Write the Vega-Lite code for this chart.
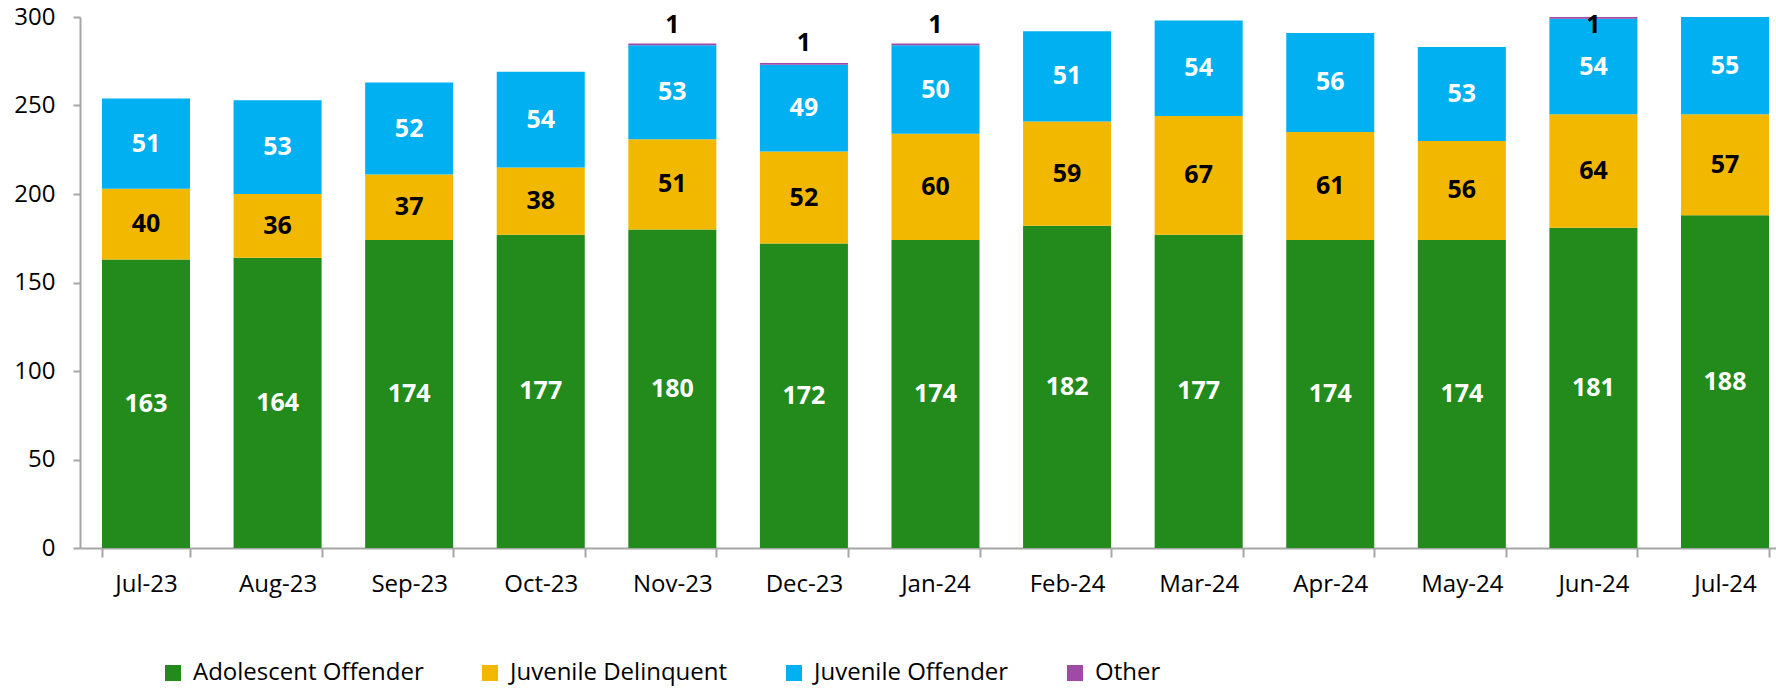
{
  "$schema": "https://vega.github.io/schema/vega-lite/v6.json",
  "autosize": {"type": "none"},
  "padding": {"left": 80, "top": 17, "right": 0, "bottom": 142},
  "width": 1696,
  "height": 531,
  "config": {"view": {"stroke": null}, "font": "Open Sans"},
  "data": {
    "values": [
      {"month": "Jul-23", "cat": "Adolescent Offender", "value": 163},
      {"month": "Jul-23", "cat": "Juvenile Delinquent", "value": 40},
      {"month": "Jul-23", "cat": "Juvenile Offender", "value": 51},
      {"month": "Jul-23", "cat": "Other", "value": 0},
      {"month": "Aug-23", "cat": "Adolescent Offender", "value": 164},
      {"month": "Aug-23", "cat": "Juvenile Delinquent", "value": 36},
      {"month": "Aug-23", "cat": "Juvenile Offender", "value": 53},
      {"month": "Aug-23", "cat": "Other", "value": 0},
      {"month": "Sep-23", "cat": "Adolescent Offender", "value": 174},
      {"month": "Sep-23", "cat": "Juvenile Delinquent", "value": 37},
      {"month": "Sep-23", "cat": "Juvenile Offender", "value": 52},
      {"month": "Sep-23", "cat": "Other", "value": 0},
      {"month": "Oct-23", "cat": "Adolescent Offender", "value": 177},
      {"month": "Oct-23", "cat": "Juvenile Delinquent", "value": 38},
      {"month": "Oct-23", "cat": "Juvenile Offender", "value": 54},
      {"month": "Oct-23", "cat": "Other", "value": 0},
      {"month": "Nov-23", "cat": "Adolescent Offender", "value": 180},
      {"month": "Nov-23", "cat": "Juvenile Delinquent", "value": 51},
      {"month": "Nov-23", "cat": "Juvenile Offender", "value": 53},
      {"month": "Nov-23", "cat": "Other", "value": 1},
      {"month": "Dec-23", "cat": "Adolescent Offender", "value": 172},
      {"month": "Dec-23", "cat": "Juvenile Delinquent", "value": 52},
      {"month": "Dec-23", "cat": "Juvenile Offender", "value": 49},
      {"month": "Dec-23", "cat": "Other", "value": 1},
      {"month": "Jan-24", "cat": "Adolescent Offender", "value": 174},
      {"month": "Jan-24", "cat": "Juvenile Delinquent", "value": 60},
      {"month": "Jan-24", "cat": "Juvenile Offender", "value": 50},
      {"month": "Jan-24", "cat": "Other", "value": 1},
      {"month": "Feb-24", "cat": "Adolescent Offender", "value": 182},
      {"month": "Feb-24", "cat": "Juvenile Delinquent", "value": 59},
      {"month": "Feb-24", "cat": "Juvenile Offender", "value": 51},
      {"month": "Feb-24", "cat": "Other", "value": 0},
      {"month": "Mar-24", "cat": "Adolescent Offender", "value": 177},
      {"month": "Mar-24", "cat": "Juvenile Delinquent", "value": 67},
      {"month": "Mar-24", "cat": "Juvenile Offender", "value": 54},
      {"month": "Mar-24", "cat": "Other", "value": 0},
      {"month": "Apr-24", "cat": "Adolescent Offender", "value": 174},
      {"month": "Apr-24", "cat": "Juvenile Delinquent", "value": 61},
      {"month": "Apr-24", "cat": "Juvenile Offender", "value": 56},
      {"month": "Apr-24", "cat": "Other", "value": 0},
      {"month": "May-24", "cat": "Adolescent Offender", "value": 174},
      {"month": "May-24", "cat": "Juvenile Delinquent", "value": 56},
      {"month": "May-24", "cat": "Juvenile Offender", "value": 53},
      {"month": "May-24", "cat": "Other", "value": 0},
      {"month": "Jun-24", "cat": "Adolescent Offender", "value": 181},
      {"month": "Jun-24", "cat": "Juvenile Delinquent", "value": 64},
      {"month": "Jun-24", "cat": "Juvenile Offender", "value": 54},
      {"month": "Jun-24", "cat": "Other", "value": 1},
      {"month": "Jul-24", "cat": "Adolescent Offender", "value": 188},
      {"month": "Jul-24", "cat": "Juvenile Delinquent", "value": 57},
      {"month": "Jul-24", "cat": "Juvenile Offender", "value": 55},
      {"month": "Jul-24", "cat": "Other", "value": 0}
    ]
  },
  "transform": [
    {"calculate": "indexof(['Adolescent Offender','Juvenile Delinquent','Juvenile Offender','Other'], datum.cat)", "as": "ord"},
    {"window": [{"op": "sum", "field": "value", "as": "cum"}], "groupby": ["month"], "sort": [{"field": "ord"}], "frame": [null, 0]},
    {"calculate": "datum.cum - datum.value / 2", "as": "mid"},
    {"calculate": "min(datum.cum + 11.5, 295.5)", "as": "top"}
  ],
  "encoding": {
    "x": {
      "field": "month",
      "type": "nominal",
      "sort": ["Jul-23","Aug-23","Sep-23","Oct-23","Nov-23","Dec-23","Jan-24","Feb-24","Mar-24","Apr-24","May-24","Jun-24","Jul-24"],
      "scale": {"range": [0, 1711], "paddingInner": 0.331, "paddingOuter": 0.167},
      "axis": {
        "title": null,
        "labelAngle": 0,
        "labelFont": "Open Sans",
        "labelFontSize": 24,
        "labelColor": "#000000",
        "tickBand": "extent",
        "tickSize": 9,
        "tickColor": "#A6A6A6",
        "tickWidth": 2,
        "domainColor": "#A6A6A6",
        "domainWidth": 2,
        "labelPadding": 15
      }
    }
  },
  "layer": [
    {
      "mark": {"type": "bar"},
      "encoding": {
        "y": {
          "field": "value",
          "type": "quantitative",
          "stack": "zero",
          "scale": {"domain": [0, 300], "nice": false},
          "axis": {
            "title": null,
            "values": [0, 50, 100, 150, 200, 250, 300],
            "grid": false,
            "labelFont": "Open Sans",
            "labelFontSize": 24,
            "labelColor": "#000000",
            "tickSize": 7,
            "tickColor": "#A6A6A6",
            "tickWidth": 2,
            "domainColor": "#A6A6A6",
            "domainWidth": 2,
            "labelPadding": 18
          }
        },
        "order": {"field": "ord", "type": "quantitative"},
        "color": {
          "field": "cat",
          "type": "nominal",
          "scale": {
            "domain": ["Adolescent Offender", "Juvenile Delinquent", "Juvenile Offender", "Other"],
            "range": ["#228B1C", "#F2B800", "#00B0F0", "#A04AA8"]
          },
          "legend": {
            "orient": "none",
            "legendX": 81,
            "legendY": 644,
            "direction": "horizontal",
            "title": null,
            "symbolType": "square",
            "symbolSize": 256,
            "symbolStrokeWidth": 0,
            "labelFont": "Open Sans",
            "labelFontSize": 24,
            "labelColor": "#000000",
            "labelOffset": 8,
            "columnPadding": 54,
            "labelLimit": 500
          }
        }
      }
    },
    {
      "transform": [{"filter": "datum.cat !== 'Other'"}],
      "mark": {"type": "text", "font": "Open Sans", "fontSize": 25, "fontWeight": "bold", "baseline": "middle", "align": "center"},
      "encoding": {
        "y": {"field": "mid", "type": "quantitative"},
        "text": {"field": "value", "type": "quantitative"},
        "color": {
          "condition": {"test": "datum.cat === 'Juvenile Delinquent'", "value": "#000000"},
          "value": "#FFFFFF"
        }
      }
    },
    {
      "transform": [{"filter": "datum.cat === 'Other' && datum.value > 0"}],
      "mark": {"type": "text", "font": "Open Sans", "fontSize": 25, "fontWeight": "bold", "baseline": "middle", "align": "center", "color": "#000000"},
      "encoding": {
        "y": {"field": "top", "type": "quantitative"},
        "text": {"field": "value", "type": "quantitative"}
      }
    }
  ]
}
